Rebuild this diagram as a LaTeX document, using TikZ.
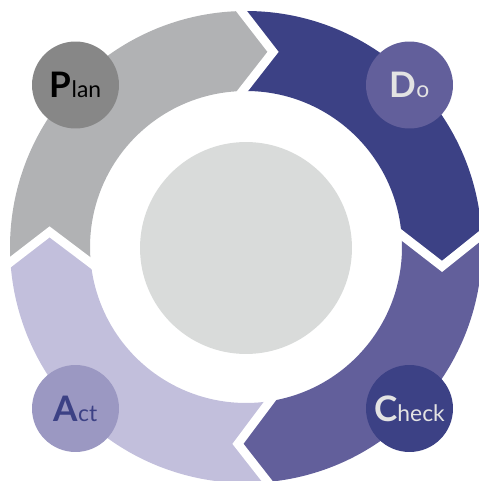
\documentclass[tikz,border=0pt]{standalone}
\usepackage{fontspec}
\setmainfont{Lato}
\usetikzlibrary{calc}

\definecolor{planarc}{HTML}{B1B2B4}
\definecolor{plandot}{HTML}{878787}
\definecolor{navy}{HTML}{3C4185}
\definecolor{violet}{HTML}{625F9B}
\definecolor{actarc}{HTML}{C2BFDC}
\definecolor{actdot}{HTML}{9B98C2}
\definecolor{core}{HTML}{D9DBDA}
\definecolor{softwhite}{HTML}{E3E3E3}

\tikzset{
    stage/.style={circle, minimum size=1.74cm, inner sep=0pt},
    gap/.style={white, line width=0.175cm, line join=miter},
}
\newcommand\stagename[2]{{\fontsize{20}{20}\selectfont\bfseries #1}{\fontsize{13}{13}\selectfont #2}}

\begin{document}
\begin{tikzpicture}[scale=0.02]
        \useasboundingbox (-246, -234) rectangle (232, 247);
        % ring segments, clockwise
        \fill[planarc] (183.65:236) arc[start angle=183.65, end angle=91.1, radius=236] -- (82.1:197) -- (91.3:156) arc[start angle=91.3, end angle=185.9, radius=156] -- (175.6:197) -- cycle;
        \fill[navy] (91.1:236) arc[start angle=91.1, end angle=3, radius=236] -- (-5.65:197) -- (4.4:156) arc[start angle=4.4, end angle=91.3, radius=156] -- (82.1:197) -- cycle;
        \fill[violet] (3:236) arc[start angle=3, end angle=-84.7, radius=236] -- (-92.35:197) -- (-81.2:156) arc[start angle=-81.2, end angle=4.4, radius=156] -- (-5.65:197) -- cycle;
        \fill[actarc] (-84.7:236) arc[start angle=-84.7, end angle=-176.35, radius=236] -- (-184.4:197) -- (-174.1:156) arc[start angle=-174.1, end angle=-81.2, radius=156] -- (-92.35:197) -- cycle;
        % white chevrons between the segments
        \foreach \o/\t/\i in {91.1/82.1/91.3, 3/-5.65/4.4, -84.7/-92.35/-81.2, -176.35/-184.4/-174.1}
            \draw[gap] ($(\t:197)!1.3!(\o:236)$) -- (\t:197) -- ($(\t:197)!1.3!(\i:156)$);
        \node[circle, fill=core, minimum size=4.24cm, inner sep=0pt] (core) at (0, -1) {};
        \node[stage, fill=plandot, text=black] (plan) at (-170.5, 162) {\stagename{P}{lan}};
        \node[stage, fill=violet, text=softwhite] (do) at (163.5, 162) {\stagename{D}{o}};
        \node[stage, fill=navy, text=softwhite] (check) at (163.5, -161.5) {\stagename{C}{heck}};
        \node[stage, fill=actdot, text=navy] (act) at (-170.5, -161.5) {\stagename{A}{ct}};
    \end{tikzpicture}
\end{document}
